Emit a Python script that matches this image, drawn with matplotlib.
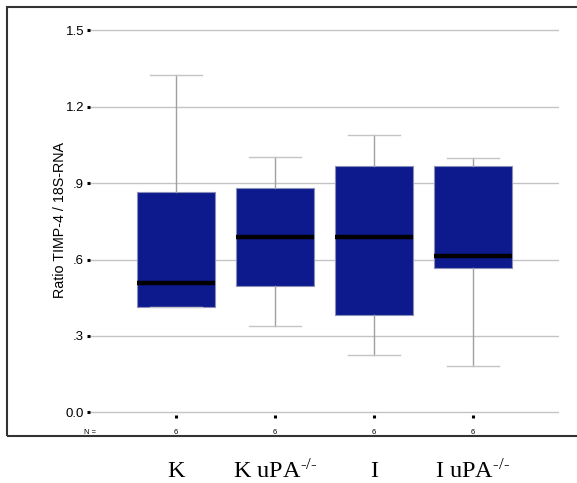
import matplotlib
matplotlib.use("Agg")
import matplotlib.pyplot as plt
from matplotlib.patches import Rectangle
from matplotlib.transforms import blended_transform_factory

# ------------------------
# Data
# ------------------------
groups = ["K", "K uPA$^{\\mathregular{\u2010/\u2010}}$", "I", "I uPA$^{\\mathregular{\u2010/\u2010}}$"]
n_per_group = [6, 6, 6, 6]
whisker_low = [0.413, 0.338, 0.226, 0.183]
q1 = [0.413, 0.497, 0.381, 0.568]
median = [0.509, 0.688, 0.688, 0.613]
q3 = [0.864, 0.883, 0.966, 0.966]
whisker_high = [1.324, 1.003, 1.091, 0.999]
ytick_vals = [0.0, 0.3, 0.6, 0.9, 1.2, 1.5]
ytick_labels = ["0.0", ".3", ".6", ".9", "1.2", "1.5"]

plt.rcParams["font.family"] = ["Liberation Sans", "DejaVu Sans"]
plt.rcParams["mathtext.fontset"] = "stix"

W, H = 577, 483
fig = plt.figure(figsize=(W / 100, H / 100), dpi=100)

# axes placed in pixel terms
ylo, yhi = -0.01, 1.51
px_per_unit = 258.0
ax_bottom_px = 417.5 - (0 - ylo) * px_per_unit
ax_top_px = 30.5 - (yhi - 1.5) * px_per_unit
ax_left_px, ax_right_px = 90, 559
ax = fig.add_axes([ax_left_px / W, 1 - ax_bottom_px / H,
                   (ax_right_px - ax_left_px) / W, (ax_bottom_px - ax_top_px) / H])

stats = []
for i in range(len(groups)):
    stats.append({"whislo": whisker_low[i], "q1": q1[i], "med": median[i],
                  "q3": q3[i], "whishi": whisker_high[i], "fliers": []})

positions = list(range(1, len(groups) + 1))
ax.bxp(stats, positions=positions, widths=0.79, patch_artist=True,
       showfliers=False,
       boxprops=dict(facecolor="#0c1a8e", edgecolor="#8a8fb8", linewidth=0.8),
       medianprops=dict(color="black", linewidth=3.2, solid_capstyle="butt"),
       whiskerprops=dict(color="#a0a0a0", linewidth=1.0),
       capprops=dict(color="#c4c4c4", linewidth=1.0),
       capwidths=0.53, zorder=3)

ax.set_xlim(0.131, 4.869)
ax.set_ylim(ylo, yhi)
ax.set_yticks(ytick_vals)
ax.set_yticklabels(ytick_labels, fontsize=9.5)
ax.set_xticks(positions)
ax.set_xticklabels([str(n) for n in n_per_group], fontsize=5.5)
ax.tick_params(axis="y", direction="out", length=2.2, width=2.2, pad=2)
ax.tick_params(axis="x", direction="out", length=2.2, width=2.2, pad=8)
ax.grid(axis="y", color="#c4c4c4", linewidth=1.0, zorder=0)
ax.set_axisbelow(True)
for spine in ax.spines.values():
    spine.set_visible(False)

fig.text(90 / W, 1 - 433 / H, "N =", fontsize=5.5, ha="center", va="center")
fig.text(60 / W, 1 - 220 / H, "Ratio TIMP-4 / 18S-RNA", fontsize=10.3,
         rotation=90, ha="center", va="center")

# group names under the frame
trans = blended_transform_factory(ax.transData, fig.transFigure)
for pos, name in zip(positions, groups):
    ax.text(pos, 1 - 471.5 / H, name, transform=trans, ha="center", va="center",
            fontsize=17.5, family="Liberation Serif", clip_on=False)

# outer frame
fig.patches.append(Rectangle((7 / W, 1 - 436 / H), 1.0, (436 - 7) / H,
                             transform=fig.transFigure, fill=False,
                             edgecolor="#333333", linewidth=1.5))

fig.savefig("out.png", dpi=100)
